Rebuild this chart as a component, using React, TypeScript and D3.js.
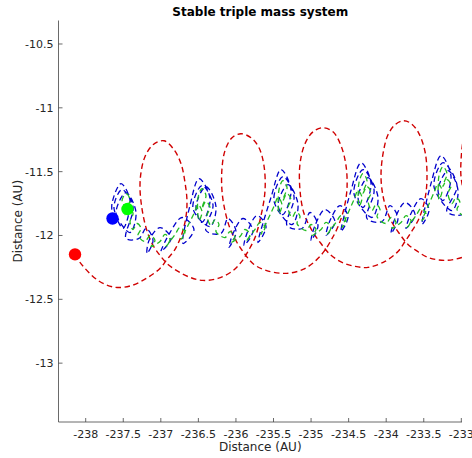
import React from 'react';
import * as d3 from 'd3';

type P = [number, number];

const xTicks = [-238, -237.5, -237, -236.5, -236, -235.5, -235, -234.5, -234, -233.5, -233];
const yTicks = [-13, -12.5, -12, -11.5, -11, -10.5];
const xDomain: P = [-238.362, -232.991];
const yDomain: P = [-13.461, -10.316];

const redPath: P[] = [
  [-238.142, -12.148], [-238.076, -12.211], [-237.836, -12.352], [-237.610, -12.406], [-237.384, -12.391],
  [-237.171, -12.328], [-237.011, -12.258], [-236.918, -12.188], [-236.811, -12.109], [-236.718, -11.984],
  [-236.665, -11.852], [-236.652, -11.727], [-236.678, -11.586], [-236.731, -11.438], [-236.825, -11.328],
  [-236.958, -11.258], [-237.104, -11.289], [-237.211, -11.383], [-237.264, -11.508], [-237.277, -11.633],
  [-237.251, -11.789], [-237.197, -11.938], [-237.117, -12.063], [-237.011, -12.156], [-236.904, -12.227],
  [-236.771, -12.281], [-236.612, -12.328], [-236.439, -12.352], [-236.239, -12.336], [-236.052, -12.281],
  [-235.933, -12.211], [-235.840, -12.125], [-235.746, -12.016], [-235.666, -11.844], [-235.613, -11.648],
  [-235.627, -11.453], [-235.693, -11.313], [-235.800, -11.234], [-235.933, -11.203], [-236.052, -11.234],
  [-236.146, -11.336], [-236.186, -11.477], [-236.186, -11.648], [-236.146, -11.805], [-236.079, -11.945],
  [-235.986, -12.055], [-235.879, -12.148], [-235.760, -12.227], [-235.600, -12.273], [-235.347, -12.297],
  [-235.107, -12.266], [-234.934, -12.195], [-234.828, -12.125], [-234.735, -12.039], [-234.641, -11.930],
  [-234.562, -11.789], [-234.522, -11.633], [-234.535, -11.453], [-234.601, -11.297], [-234.708, -11.188],
  [-234.841, -11.156], [-234.974, -11.188], [-235.081, -11.281], [-235.147, -11.438], [-235.147, -11.648],
  [-235.094, -11.828], [-234.988, -11.961], [-234.868, -12.063], [-234.748, -12.148], [-234.588, -12.211],
  [-234.415, -12.242], [-234.242, -12.250], [-234.016, -12.203], [-233.843, -12.125], [-233.749, -12.047],
  [-233.670, -11.977], [-233.563, -11.867], [-233.483, -11.711], [-233.457, -11.547], [-233.483, -11.344],
  [-233.576, -11.188], [-233.683, -11.117], [-233.776, -11.102], [-233.883, -11.133], [-233.976, -11.211],
  [-234.042, -11.359], [-234.069, -11.547], [-234.029, -11.727], [-233.936, -11.883], [-233.816, -11.992],
  [-233.710, -12.070], [-233.603, -12.117], [-233.443, -12.172], [-233.217, -12.195], [-232.991, -12.172],
  [-232.804, -12.117], [-232.671, -12.039], [-232.565, -11.922], [-232.485, -11.766], [-232.445, -11.570],
  [-232.485, -11.375], [-232.578, -11.203], [-232.711, -11.086], [-232.831, -11.055], [-232.924, -11.133],
  [-232.977, -11.258], [-233.004, -11.414], [-233.004, -11.539], [-232.964, -11.664], [-232.898, -11.789],
];

const bluePath: P[] = [
  [-237.637, -11.867],
  [-237.650, -11.750], [-237.530, -11.594], [-237.410, -11.727], [-237.503, -11.945],
  [-237.597, -11.820], [-237.463, -11.664], [-237.330, -11.820], [-237.410, -11.977],
  [-237.623, -11.789], [-237.517, -11.641], [-237.370, -11.773], [-237.463, -12.023],
  [-237.290, -12.023], [-237.197, -11.945], [-237.104, -12.039], [-237.184, -12.141],
  [-237.157, -12.039], [-237.011, -11.938], [-236.864, -12.023], [-236.998, -12.125],
  [-236.878, -11.977], [-236.718, -11.859], [-236.559, -11.953], [-236.705, -12.063],
  [-236.612, -11.766], [-236.492, -11.555], [-236.345, -11.711], [-236.452, -11.898],
  [-236.532, -11.773], [-236.399, -11.617], [-236.266, -11.773], [-236.345, -11.930],
  [-236.572, -11.789], [-236.452, -11.609], [-236.306, -11.758], [-236.399, -11.961],
  [-236.199, -11.984], [-236.106, -11.867], [-235.999, -11.969], [-236.093, -12.094],
  [-236.039, -11.984], [-235.906, -11.867], [-235.773, -11.961], [-235.893, -12.078],
  [-235.840, -11.961], [-235.720, -11.844], [-235.600, -11.930], [-235.707, -12.055],
  [-235.534, -11.703], [-235.400, -11.484], [-235.267, -11.648], [-235.374, -11.836],
  [-235.440, -11.758], [-235.307, -11.602], [-235.174, -11.758], [-235.254, -11.914],
  [-235.494, -11.727], [-235.374, -11.539], [-235.227, -11.695], [-235.320, -11.922],
  [-235.121, -11.945], [-235.014, -11.820], [-234.908, -11.922], [-235.001, -12.039],
  [-234.948, -11.922], [-234.815, -11.797], [-234.682, -11.891], [-234.801, -12.000],
  [-234.748, -11.883], [-234.615, -11.766], [-234.508, -11.852], [-234.602, -11.969],
  [-234.469, -11.648], [-234.336, -11.430], [-234.202, -11.594], [-234.309, -11.781],
  [-234.375, -11.703], [-234.242, -11.547], [-234.109, -11.703], [-234.189, -11.859],
  [-234.429, -11.672], [-234.309, -11.484], [-234.162, -11.641], [-234.256, -11.867],
  [-234.056, -11.891], [-233.949, -11.766], [-233.843, -11.867], [-233.936, -11.984],
  [-233.883, -11.867], [-233.749, -11.742], [-233.616, -11.836], [-233.736, -11.945],
  [-233.670, -11.828], [-233.537, -11.711], [-233.430, -11.797], [-233.523, -11.914],
  [-233.404, -11.594], [-233.271, -11.375], [-233.137, -11.539], [-233.244, -11.727],
  [-233.310, -11.648], [-233.177, -11.492], [-233.044, -11.648], [-233.124, -11.805],
  [-233.364, -11.617], [-233.244, -11.430], [-233.057, -11.609], [-233.191, -11.813],
  [-232.991, -11.836], [-232.884, -11.711], [-232.778, -11.813], [-232.871, -11.930],
];

const greenPath: P[] = [
  [-237.450, -11.789],
  [-237.517, -11.734], [-237.463, -11.672], [-237.410, -11.719], [-237.450, -11.781],
  [-237.477, -11.836], [-237.423, -11.781], [-237.370, -11.828], [-237.410, -11.891],
  [-237.370, -11.953], [-237.317, -11.906], [-237.264, -11.945], [-237.304, -12.000],
  [-237.211, -12.047], [-237.144, -12.000], [-237.078, -12.039], [-237.131, -12.086],
  [-237.011, -12.047], [-236.945, -11.992], [-236.878, -12.031], [-236.931, -12.086],
  [-236.811, -11.992], [-236.745, -11.938], [-236.678, -11.977], [-236.731, -12.031],
  [-236.559, -11.828], [-236.505, -11.758], [-236.452, -11.813], [-236.492, -11.883],
  [-236.505, -11.703], [-236.452, -11.633], [-236.399, -11.688], [-236.439, -11.758],
  [-236.452, -11.789], [-236.399, -11.734], [-236.345, -11.781], [-236.385, -11.844],
  [-236.332, -11.922], [-236.279, -11.875], [-236.226, -11.914], [-236.266, -11.969],
  [-236.146, -12.016], [-236.079, -11.969], [-236.013, -12.008], [-236.066, -12.055],
  [-235.946, -12.008], [-235.880, -11.953], [-235.813, -11.992], [-235.866, -12.047],
  [-235.747, -11.953], [-235.680, -11.898], [-235.614, -11.938], [-235.667, -11.992],
  [-235.494, -11.773], [-235.440, -11.703], [-235.387, -11.758], [-235.427, -11.828],
  [-235.427, -11.641], [-235.374, -11.570], [-235.320, -11.625], [-235.360, -11.695],
  [-235.374, -11.727], [-235.320, -11.672], [-235.267, -11.719], [-235.307, -11.781],
  [-235.254, -11.859], [-235.200, -11.813], [-235.147, -11.852], [-235.187, -11.906],
  [-235.067, -11.961], [-235.001, -11.914], [-234.934, -11.953], [-234.988, -12.000],
  [-234.868, -11.953], [-234.801, -11.898], [-234.735, -11.938], [-234.788, -11.992],
  [-234.668, -11.898], [-234.602, -11.844], [-234.535, -11.883], [-234.588, -11.938],
  [-234.429, -11.719], [-234.375, -11.648], [-234.322, -11.703], [-234.362, -11.773],
  [-234.362, -11.586], [-234.309, -11.516], [-234.256, -11.570], [-234.296, -11.641],
  [-234.309, -11.672], [-234.256, -11.617], [-234.202, -11.664], [-234.242, -11.727],
  [-234.189, -11.805], [-234.136, -11.758], [-234.082, -11.797], [-234.122, -11.852],
  [-234.002, -11.906], [-233.936, -11.859], [-233.869, -11.898], [-233.923, -11.945],
  [-233.803, -11.898], [-233.736, -11.844], [-233.670, -11.883], [-233.723, -11.938],
  [-233.603, -11.844], [-233.537, -11.789], [-233.470, -11.828], [-233.523, -11.883],
  [-233.364, -11.664], [-233.310, -11.594], [-233.257, -11.648], [-233.297, -11.719],
  [-233.297, -11.531], [-233.244, -11.461], [-233.191, -11.516], [-233.231, -11.586],
  [-233.244, -11.617], [-233.191, -11.563], [-233.137, -11.609], [-233.177, -11.672],
  [-233.124, -11.750], [-233.071, -11.703], [-233.017, -11.742], [-233.057, -11.797],
  [-232.937, -11.852], [-232.871, -11.805], [-232.804, -11.844], [-232.857, -11.891],
];

const bodyNames = ['Red', 'Blue', 'Green'];
const bodyStartX = [-238.142, -237.643, -237.444];
const bodyStartY = [-12.148, -11.867, -11.793];
const bodyMarkerColors = ['#ff0000', '#0000ff', '#00ff00'];
const bodyLineColors = ['#d00000', '#0000cc', '#22bb22'];

const W = 472;
const H = 458;
const left = 58.5;
const right = 462;
const top = 20.5;
const bottom = 422;
const textColor = '#262626';
const font = 'DejaVu Sans, sans-serif';

export default function App() {
  const x = d3.scaleLinear().domain(xDomain).range([left, right]);
  const y = d3.scaleLinear().domain(yDomain).range([bottom, top]);
  const line = d3
    .line<P>()
    .x((d) => x(d[0]))
    .y((d) => y(d[1]))
    .curve(d3.curveCatmullRom.alpha(0.5));
  const paths = [redPath, bluePath, greenPath];
  const widths = [1.4, 1.3, 1.3];

  return (
    <svg
      width={W}
      height={H}
      viewBox={`0 0 ${W} ${H}`}
      style={{ position: 'absolute', left: 0, top: 0, background: '#fff' }}
      fontFamily={font}
    >
      <rect x={0} y={0} width={W} height={H} fill="#fff" />
      <defs>
        <clipPath id="plotClip">
          <rect x={left} y={top} width={right - left} height={bottom - top} />
        </clipPath>
      </defs>
      <g clipPath="url(#plotClip)">
        {paths.map((p, i) => (
          <path
            key={bodyNames[i]}
            d={line(p) || ''}
            fill="none"
            stroke={bodyLineColors[i]}
            strokeWidth={widths[i]}
            strokeDasharray="5.5,3.5"
          />
        ))}
        {bodyNames.map((n, i) => (
          <circle key={n} cx={x(bodyStartX[i])} cy={y(bodyStartY[i])} r={6.2} fill={bodyMarkerColors[i]} />
        ))}
      </g>
      <line x1={left} x2={left} y1={top} y2={bottom} stroke="#444" strokeWidth={0.8} />
      <line x1={left} x2={right} y1={bottom} y2={bottom} stroke="#444" strokeWidth={0.8} />
      {xTicks.map((t) => (
        <g key={'x' + t}>
          <line x1={x(t)} x2={x(t)} y1={bottom} y2={bottom - 4} stroke="#444" strokeWidth={0.8} />
          <text x={x(t)} y={437.5} fontSize={11} textAnchor="middle" fill={textColor}>
            {String(t)}
          </text>
        </g>
      ))}
      {yTicks.map((t) => (
        <g key={'y' + t}>
          <line x1={left} x2={left + 4} y1={y(t)} y2={y(t)} stroke="#444" strokeWidth={0.8} />
          <text x={53.5} y={y(t) + 4} fontSize={11} textAnchor="end" fill={textColor}>
            {String(t)}
          </text>
        </g>
      ))}
      <text x={(left + right) / 2} y={451} fontSize={12} textAnchor="middle" fill={textColor}>
        Distance (AU)
      </text>
      <text
        transform={`translate(21.5, ${(top + bottom) / 2}) rotate(-90)`}
        fontSize={12}
        textAnchor="middle"
        fill={textColor}
      >
        Distance (AU)
      </text>
      <text x={(left + right) / 2} y={15.5} fontSize={12} fontWeight="bold" textAnchor="middle" fill="#000">
        Stable triple mass system
      </text>
    </svg>
  );
}
